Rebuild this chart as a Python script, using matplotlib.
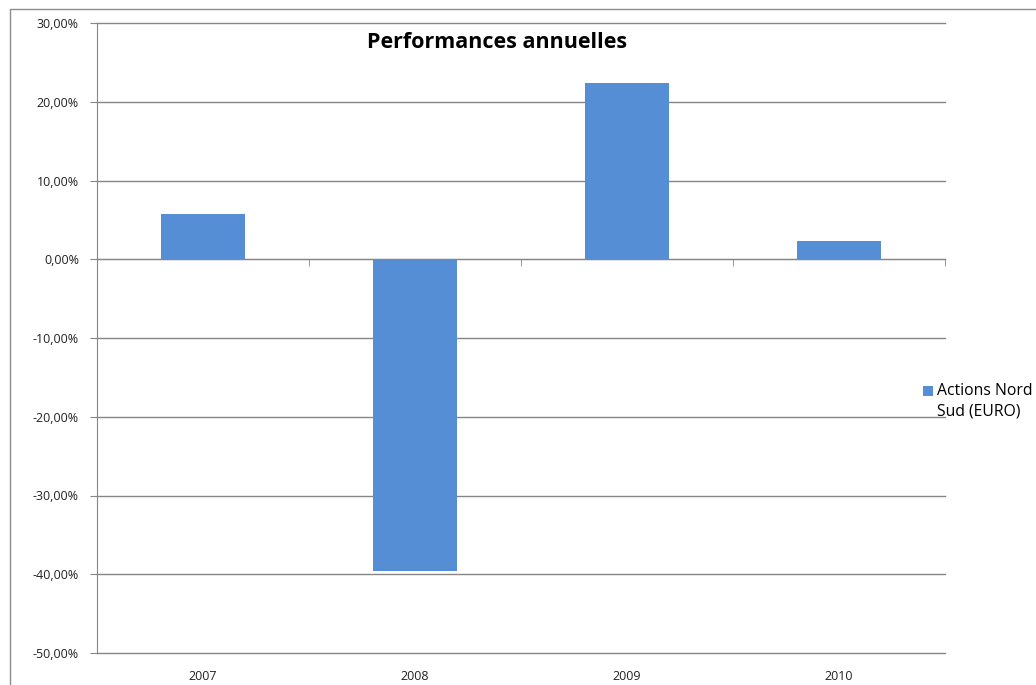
import matplotlib
matplotlib.use("Agg")
import matplotlib.pyplot as plt
from matplotlib.patches import Rectangle
from matplotlib.ticker import FuncFormatter, FixedLocator
import numpy as np

years = ["2007", "2008", "2009", "2010"]
perf = [5.75, -39.6, 22.35, 2.28]
series_name = "Actions Nord\nSud (EURO)"
title = "Performances annuelles"

plt.rcParams['font.family'] = ['Open Sans', 'DejaVu Sans']

W, H = 1036, 685
fig = plt.figure(figsize=(W / 100, H / 100), dpi=100)
ax = fig.add_axes([97 / W, 1 - 653 / H, (945 - 97) / W, (653 - 23) / H])

grid_c = "#868686"
bar_c = "#558ED5"

x = np.arange(len(years))
ax.bar(x, perf, width=0.4, color=bar_c, zorder=3)

ax.set_xlim(-0.5, len(years) - 0.5)
ax.set_ylim(-50, 30)
ax.set_yticks(np.arange(-50, 31, 10))
ax.yaxis.set_major_formatter(FuncFormatter(lambda v, p: f"{v:.2f}%".replace(".", ",")))
ax.grid(axis="y", color=grid_c, linewidth=1, zorder=0)
for gl in ax.get_ygridlines():
    gl.set_clip_on(False)
ax.tick_params(axis="y", direction="out", length=5, color=grid_c, labelsize=9, pad=8, labelcolor="#222222")

for s in ["top", "right"]:
    ax.spines[s].set_visible(False)
ax.spines["left"].set_color(grid_c)
ax.spines["bottom"].set_position(("data", 0))
ax.spines["bottom"].set_color(grid_c)
ax.spines["bottom"].set_zorder(4)
ax.xaxis.set_major_locator(FixedLocator(list(x)))
ax.xaxis.set_minor_locator(FixedLocator(list(np.arange(-0.5, len(years), 1.0))))
ax.tick_params(axis="x", which="major", length=0, labelbottom=False)
ax.tick_params(axis="x", which="minor", direction="out", length=5, color=grid_c)

sec = ax.secondary_xaxis("bottom")
sec.set_xticks(list(x))
sec.set_xticklabels(years)
sec.tick_params(length=0, labelsize=9, pad=12, labelcolor="#222222")
sec.spines["bottom"].set_visible(False)

fig.text(497 / W, 1 - 43 / H, title, ha="center", va="center", fontsize=15.5, fontweight="bold")

fig.patches.append(Rectangle((10 / W, -0.1), 1.2, 1 - 9 / H + 0.1, transform=fig.transFigure,
                             fill=False, edgecolor="#8c8c8c", linewidth=1))

fig.patches.append(Rectangle((923 / W, 1 - 396 / H), 10 / W, 10 / H, transform=fig.transFigure,
                             facecolor=bar_c, edgecolor="none"))
fig.text(937 / W, 1 - 383 / H, series_name, ha="left", va="top", fontsize=11.3, linespacing=1.38)

fig.savefig("out.png", dpi=100)
